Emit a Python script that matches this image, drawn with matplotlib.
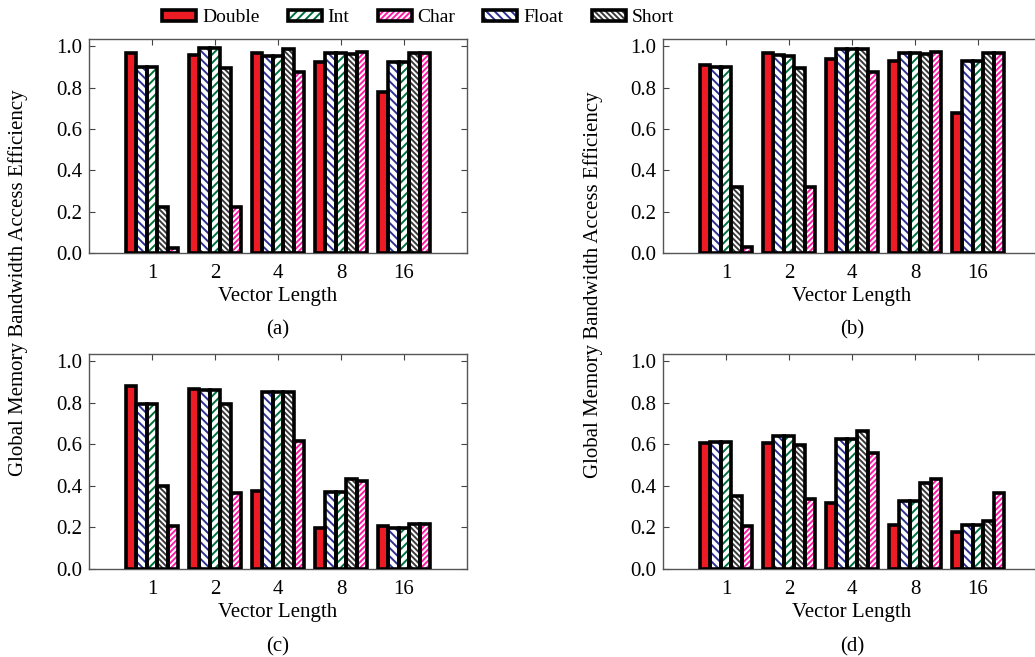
import numpy as np
import matplotlib
matplotlib.use("Agg")
import matplotlib.pyplot as plt

plt.rcParams['font.family'] = ['Liberation Serif', 'DejaVu Serif']
plt.rcParams['hatch.linewidth'] = 1.4

# Data
vector_lengths = ["1", "2", "4", "8", "16"]
series = ["Double", "Float", "Int", "Short", "Char"]

vals_a = {
    "Double": [0.968, 0.958, 0.966, 0.925, 0.778],
    "Float":  [0.900, 0.990, 0.955, 0.968, 0.925],
    "Int":    [0.900, 0.990, 0.952, 0.968, 0.925],
    "Short":  [0.224, 0.895, 0.987, 0.961, 0.968],
    "Char":   [0.022, 0.221, 0.875, 0.971, 0.968],
}
vals_b = {
    "Double": [0.908, 0.966, 0.937, 0.927, 0.679],
    "Float":  [0.898, 0.956, 0.989, 0.969, 0.927],
    "Int":    [0.898, 0.953, 0.989, 0.969, 0.927],
    "Short":  [0.319, 0.895, 0.989, 0.963, 0.966],
    "Char":   [0.029, 0.319, 0.875, 0.972, 0.966],
}
vals_c = {
    "Double": [0.883, 0.867, 0.374, 0.195, 0.208],
    "Float":  [0.795, 0.861, 0.854, 0.371, 0.195],
    "Int":    [0.795, 0.861, 0.854, 0.371, 0.195],
    "Short":  [0.398, 0.793, 0.851, 0.432, 0.217],
    "Char":   [0.208, 0.366, 0.618, 0.426, 0.217],
}
vals_d = {
    "Double": [0.608, 0.605, 0.320, 0.214, 0.179],
    "Float":  [0.611, 0.640, 0.624, 0.326, 0.214],
    "Int":    [0.611, 0.640, 0.624, 0.326, 0.214],
    "Short":  [0.352, 0.595, 0.666, 0.416, 0.230],
    "Char":   [0.205, 0.336, 0.560, 0.435, 0.368],
}

fills = {"Double": "#ed1c24", "Float": "white", "Int": "white", "Short": "white", "Char": "white"}
hatch_cols = {"Double": "#ed1c24", "Float": "#2e3192", "Int": "#00703c", "Short": "#3a3a3a", "Char": "#ff1aa3"}
hatches = {"Double": None, "Float": "\\\\\\\\", "Int": "////", "Short": "\\\\\\\\\\\\", "Char": "//////"}

fig = plt.figure(figsize=(10.35, 6.57), dpi=100)
W, H = 1035.0, 657.0

def axes_px(x0, y_top, y_bot, x1):
    return fig.add_axes([x0 / W, 1 - y_bot / H, (x1 - x0) / W, (y_bot - y_top) / H])

panels = [
    (axes_px(89, 39, 253, 467), vals_a, "(a)"),
    (axes_px(663, 39, 253, 1041), vals_b, "(b)"),
    (axes_px(89, 354, 569, 467), vals_c, "(c)"),
    (axes_px(663, 354, 569, 1041), vals_d, "(d)"),
]

x = np.arange(1, len(vector_lengths) + 1)
bw = 0.168
handles = {}
for ax, vals, tag in panels:
    for i, s in enumerate(series):
        pos = x + (i - 2) * bw
        h1 = ax.bar(pos, vals[s], bw, color=fills[s], edgecolor=hatch_cols[s],
                    hatch=hatches[s], linewidth=0, zorder=2)
        h2 = ax.bar(pos, vals[s], bw, fill=False, edgecolor="black",
                    linewidth=2.6, zorder=3)
        handles[s] = (h1[0], h2[0])
    ax.set_xlim(0, 6)
    ax.set_ylim(0, 1.035)
    ax.set_xticks(x)
    ax.set_xticklabels(vector_lengths)
    ax.set_yticks(np.arange(0, 1.01, 0.2))
    ax.set_yticklabels(["%.1f" % v for v in np.arange(0, 1.01, 0.2)])
    ax.tick_params(direction="in", top=True, right=True, labelsize=15,
                   length=4, color="#444444", pad=5)
    ax.tick_params(axis="x", pad=8)
    for sp in ax.spines.values():
        sp.set_color("#555555")
        sp.set_linewidth(1.0)
    ax.set_xlabel("Vector Length", fontsize=15, labelpad=3)
    ax.text(0.5, -0.36, tag, transform=ax.transAxes, ha="center", va="center", fontsize=15)

fig.text(18 / W, 1 - 283 / H, "Global Memory Bandwidth Access Efficiency",
         rotation=90, ha="center", va="center", fontsize=15)
fig.text(593 / W, 1 - 285 / H, "Global Memory Bandwidth Access Efficiency",
         rotation=90, ha="center", va="center", fontsize=15)

legend_order = ["Double", "Int", "Char", "Float", "Short"]
fig.legend([handles[s] for s in legend_order], legend_order, ncol=5,
           loc="center", bbox_to_anchor=(418 / W, 1 - 18 / H), frameon=False,
           fontsize=14, handlelength=1.75, handleheight=0.5, handletextpad=0.3,
           columnspacing=1.45)

fig.savefig("out.png", dpi=100)
